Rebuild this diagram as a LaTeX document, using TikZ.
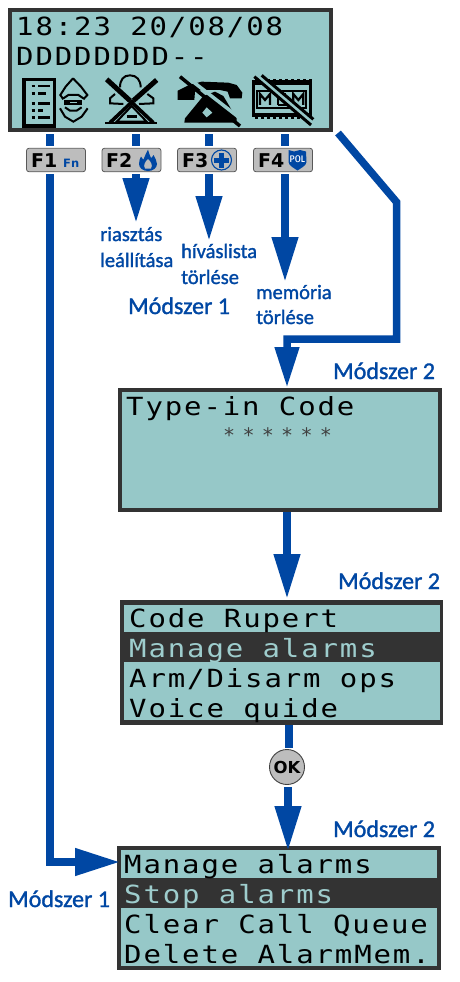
\documentclass[tikz,border=0pt]{standalone}
\usepackage{fontspec}
\usetikzlibrary{arrows.meta}
\newfontfamily\lcdfam[LetterSpace=7.5,FakeStretch=1.16]{DejaVu Sans Mono}
\newfontfamily\astfam{DejaVu Sans Mono}
\newfontfamily\labfam[FakeBold=1.4]{Carlito}
\newfontfamily\keyfam{DejaVu Sans}
\definecolor{lcd}{HTML}{96C8C8}
\definecolor{frameg}{HTML}{333333}
\definecolor{blu}{HTML}{0047A3}
\definecolor{keyg}{HTML}{BDBDBD}
\tikzset{
 x=1pt,y=-1pt,
 lcdbox/.style={draw=frameg,line width=4pt,fill=lcd,inner sep=0,outer sep=0,anchor=north west},
 lcdt/.style={anchor=base west,inner sep=0,font=\lcdfam\fontsize{25}{25}\selectfont,text=black},
 lcdinv/.style={lcdt,text=lcd!92!white},
 lab/.style={anchor=base west,inner sep=0,text=blu,font=\labfam\fontsize{20.5}{20.5}\selectfont},
 modsz/.style={anchor=base west,inner sep=0,text=blu,font=\labfam\fontsize{24}{24}\selectfont},
 keybox/.style={draw=black!65,line width=.8pt,fill=keyg,rounded corners=2.5pt,minimum width=59pt,minimum height=23.5pt,inner sep=0},
 keyt/.style={anchor=base west,inner sep=0,font=\keyfam\bfseries\fontsize{19}{19}\selectfont,text=black},
 conn/.style={draw=blu,line width=7.5pt},
 arr/.style={conn,-{Triangle[length=#1,width=25pt]}},
 arr/.default=45pt,
 ico/.style={black,line width=2pt},
 slashbg/.style={lcd,line width=3pt},
}
\begin{document}
\begin{tikzpicture}
\useasboundingbox (0,0) rectangle (460,982);
% LCD 1
\node[lcdbox,minimum width=321pt,minimum height=120pt] (lcda) at (10,10) {};
\node[lcdt] (ta1) at (16,36) {18:23 20/08/08};
\node[lcdt] (ta2) at (16,66) {DDDDDDDD--};
% Keys
\node[keybox] (f1) at (56,160) {};
\node[keybox] (f2) at (131.5,160) {};
\node[keybox] (f3) at (207,160) {};
\node[keybox] (f4) at (283,160) {};
\node[keyt] (kt1) at (31,167) {F1};
\node[keyt] (kt2) at (106,167) {F2};
\node[keyt] (kt3) at (182,167) {F3};
\node[keyt] (kt4) at (258,167) {F4};
\node[anchor=base west,inner sep=0,text=blu,font=\keyfam\bfseries\fontsize{11.5}{11.5}\selectfont] (fn) at (63,167) {Fn};
% flame
\fill[blu] (148,149.5) .. controls (149,153) and (150,156) .. (151,158) .. controls (152,157.5) and (153,156) .. (153.5,155) .. controls (155,158) and (157,161) .. (157,164) .. controls (157,168) and (153,171) .. (148,171) .. controls (143,171) and (139,168) .. (139,164) .. controls (139,161) and (140,158) .. (141,156.5) .. controls (142,158) and (142.5,159) .. (143.5,159.5) .. controls (144.5,156) and (146.5,153) .. (148,149.5) -- cycle;
\fill[keyg] (148,159) .. controls (151,162) and (153,165) .. (151,168.5) -- (145,168.5) .. controls (143,165) and (145,162) .. (148,159) -- cycle;
% circle plus
\draw[blu,line width=1.1pt] (221.5,160) circle (10);
\fill[blu] (219,152.5) rectangle (224,167.5);
\fill[blu] (214,157.5) rectangle (229,162.5);
% shield
\fill[blu] (288.5,150) -- (294,151.5) -- (300,150) -- (306,151.5) -- (306.5,162) .. controls (306,166) and (301,168) .. (297.5,170.5) .. controls (294,168) and (289,166) .. (288.5,162) -- cycle;
\node[inner sep=0,text=white,font=\sffamily\bfseries\fontsize{9.5}{9.5}\selectfont,xscale=.8] (pol) at (297.5,159) {POL};
% Icon 1
\begin{scope}[shift={(15,70)},scale=1/3]
\draw[black,line width=3.5pt] (27,29) rectangle (118,168);
\foreach \yy/\ll in {48/105,70/92,100/105,122/85,143/105}{
 \draw[black,line width=2.4pt] (50,\yy)--(60,\yy);
 \draw[black,line width=2.4pt] (70,\yy)--(\ll,\yy);
}
\draw[ico] (174,25)--(152,50)--(136,75)--(145,88) (174,25)--(198,50)--(217,75)--(205,88);
\draw[ico] (145,85)--(160,75)--(190,75)--(205,85);
\fill[black] (148,90) rectangle (202,104);
\fill[lcd] (165,95) rectangle (185,99);
\draw[ico] (150,112)--(165,122)--(185,122)--(200,112);
\draw[ico] (135,115)--(150,140)--(175,155)--(200,140)--(218,115);
% Icon 2
\draw[black,line width=5pt] (275,28)--(345,92);
\draw[black,line width=5pt] (425,30)--(355,92);
\draw[black,line width=3.6pt] (345,92)--(415,158);
\draw[black,line width=3.6pt] (355,92)--(285,158);
\draw[ico] (315,52) .. controls (315,30) and (325,16) .. (345,16) .. controls (365,16) and (377,30) .. (377,52);
\draw[ico] (300,72) -- (285,85)--(285,100)--(325,102);
\draw[ico] (397,72) -- (415,85)--(415,100)--(372,102);
\draw[ico] (350,108)--(305,155)--(395,155)--cycle;
\draw[black,line width=2.6pt] (335,140)--(365,140);
\draw[ico] (270,160)--(425,160);
\end{scope}
% Icon 3 and 4
\begin{scope}[shift={(165,70)},scale=1/3]
\fill[black] (38,62)--(72,45)--(110,35)--(190,38)--(215,45)--(232,68)--(230,85)--(195,85)--(188,65)--(165,60)--(110,60)--(90,65)--(88,90)--(38,90)--cycle;
\fill[black] (115,78)--(150,65)--(175,78)--(215,145)--(215,158)--(58,158)--(60,145)--cycle;
\draw[slashbg,line width=3.5pt] (62,18)--(232,150);
\draw[black,line width=3.5pt] (45,20)--(225,168);
\fill[lcd] (125,112)--(142,128)--(125,142)--(112,128)--cycle;
% Icon 4
\fill[black] (262,26) rectangle (440,146);
\fill[lcd] (270,45) rectangle (432,130);
\draw[black,line width=3pt,dash pattern=on 3pt off 3pt] (262,32)--(440,32);
\draw[lcd,line width=3pt,dash pattern=on 3pt off 3pt] (262,27)--(440,27);
\draw[lcd,line width=3pt,dash pattern=on 3pt off 3pt] (262,146)--(440,146);
\draw[black,line width=2.2pt] (277,62) rectangle (423,113);
\draw[black,line width=2.2pt] (285,105)--(285,72)--(300,90)--(315,72)--(315,105);
\draw[black,line width=2.2pt] (340,72)--(340,105) (340,72)--(362,72) (340,88)--(358,88) (340,105)--(362,105);
\draw[black,line width=2.2pt] (385,105)--(385,72)--(400,90)--(415,72)--(415,105);
\draw[slashbg,line width=6pt] (283,18)--(445,155);
\draw[black,line width=3pt] (290,16)--(445,148);
\draw[black,line width=3pt] (268,20)--(438,165);
\end{scope}
% Connectors
\coordinate (a1) at (50,134);
\coordinate (a2) at (136,134);
\coordinate (a3) at (209,134);
\coordinate (a4) at (285,134);
\draw[conn] (a1)--(50,146);
\draw[conn] (a2)--(136,146);
\draw[conn] (a3)--(209,146);
\draw[conn] (a4)--(285,146);
\coordinate (b1) at (50,174);
\coordinate (b2) at (136,174);
\coordinate (b3) at (209,174);
\coordinate (b4) at (285,174);
\coordinate (t2) at (136,223);
\coordinate (t3) at (209,241);
\coordinate (t4) at (285,282);
\draw[arr] (b2)--(t2);
\draw[arr] (b3)--(t3);
\draw[arr] (b4)--(t4);
% LCD 2
\node[lcdbox,minimum width=320pt,minimum height=120pt] (lcdb) at (120,390) {};
\node[lcdt] (tb1) at (126,415) {Type-in Code};
\node[anchor=base west,inner sep=0,text=black!75,font=\astfam\fontsize{20}{20}\selectfont] (tb2) at (223,442) {*\hspace{7.3pt}*\hspace{7.3pt}*\hspace{7.3pt}*\hspace{7.3pt}*\hspace{7.3pt}*};
% Menu 2
\node[lcdbox,fill=frameg,minimum width=319pt,minimum height=121pt] (mena) at (122,602) {};
\fill[lcd] (124,605) rectangle (440,632);
\fill[lcd] (124,662) rectangle (440,720);
\node[lcdt] (ma1) at (129,627) {Code Rupert};
\node[lcdinv] (ma2) at (129,657) {Manage alarms};
\node[lcdt] (ma3) at (129,687) {Arm/Disarm ops};
\node[lcdt] (ma4) at (129,717) {Voice quide};
% Menu 3
\node[lcdbox,fill=frameg,minimum width=320pt,minimum height=120pt] (menb) at (119,848) {};
\fill[lcd] (121,850) rectangle (437,878);
\fill[lcd] (121,908) rectangle (437,966);
\node[lcdt] (mb1) at (124,873) {Manage alarms};
\node[lcdinv] (mb2) at (124,903) {Stop alarms};
\node[lcdt] (mb3) at (124,933) {Clear Call Queue};
\node[lcdt] (mb4) at (124,963) {Delete AlarmMem.};
% OK
\node[circle,draw=black!75,line width=.9pt,fill=keyg,minimum size=35pt,inner sep=0,font=\keyfam\bfseries\fontsize{16.5}{16.5}\selectfont] (ok) at (287,767) {OK};
% Long connectors
\coordinate (c0) at (338,133);
\coordinate (c1) at (396.5,202);
\coordinate (c2) at (396.5,339);
\coordinate (c3) at (287,339);
\coordinate (c4) at (287,388);
\draw[conn,line join=miter,-{Triangle[length=41pt,width=23pt]}] (c0)--(c1)--(c2)--(c3)--(c4);
\coordinate (d0) at (287,512);
\coordinate (d1) at (287,599);
\draw[arr] (d0)--(d1);
\coordinate (e0) at (289,725);
\coordinate (e1) at (289,748);
\draw[conn] (e0)--(e1);
\coordinate (g0) at (288,787);
\coordinate (g1) at (288,851);
\draw[arr] (g0)--(g1);
\coordinate (h1) at (120,862);
\draw[conn,-{Triangle[length=45pt,width=26pt]}] (b1)--(50,862)--(h1);
% Labels
\node[lab] (l1) at (100,241) {riasztás};
\node[lab] (l2) at (100,267) {leállítása};
\node[lab] (l3) at (181,258) {híváslista};
\node[lab] (l4) at (181,284) {törlése};
\node[lab] (l5) at (256,299) {memória};
\node[lab] (l6) at (256,324) {törlése};
\node[modsz] (m1) at (128,314) {Módszer 1};
\node[modsz] (m2) at (333,379) {Módszer 2};
\node[modsz] (m3) at (338,589) {Módszer 2};
\node[modsz] (m4) at (333,837) {Módszer 2};
\node[modsz] (m5) at (8,907) {Módszer 1};
\end{tikzpicture}
\end{document}
